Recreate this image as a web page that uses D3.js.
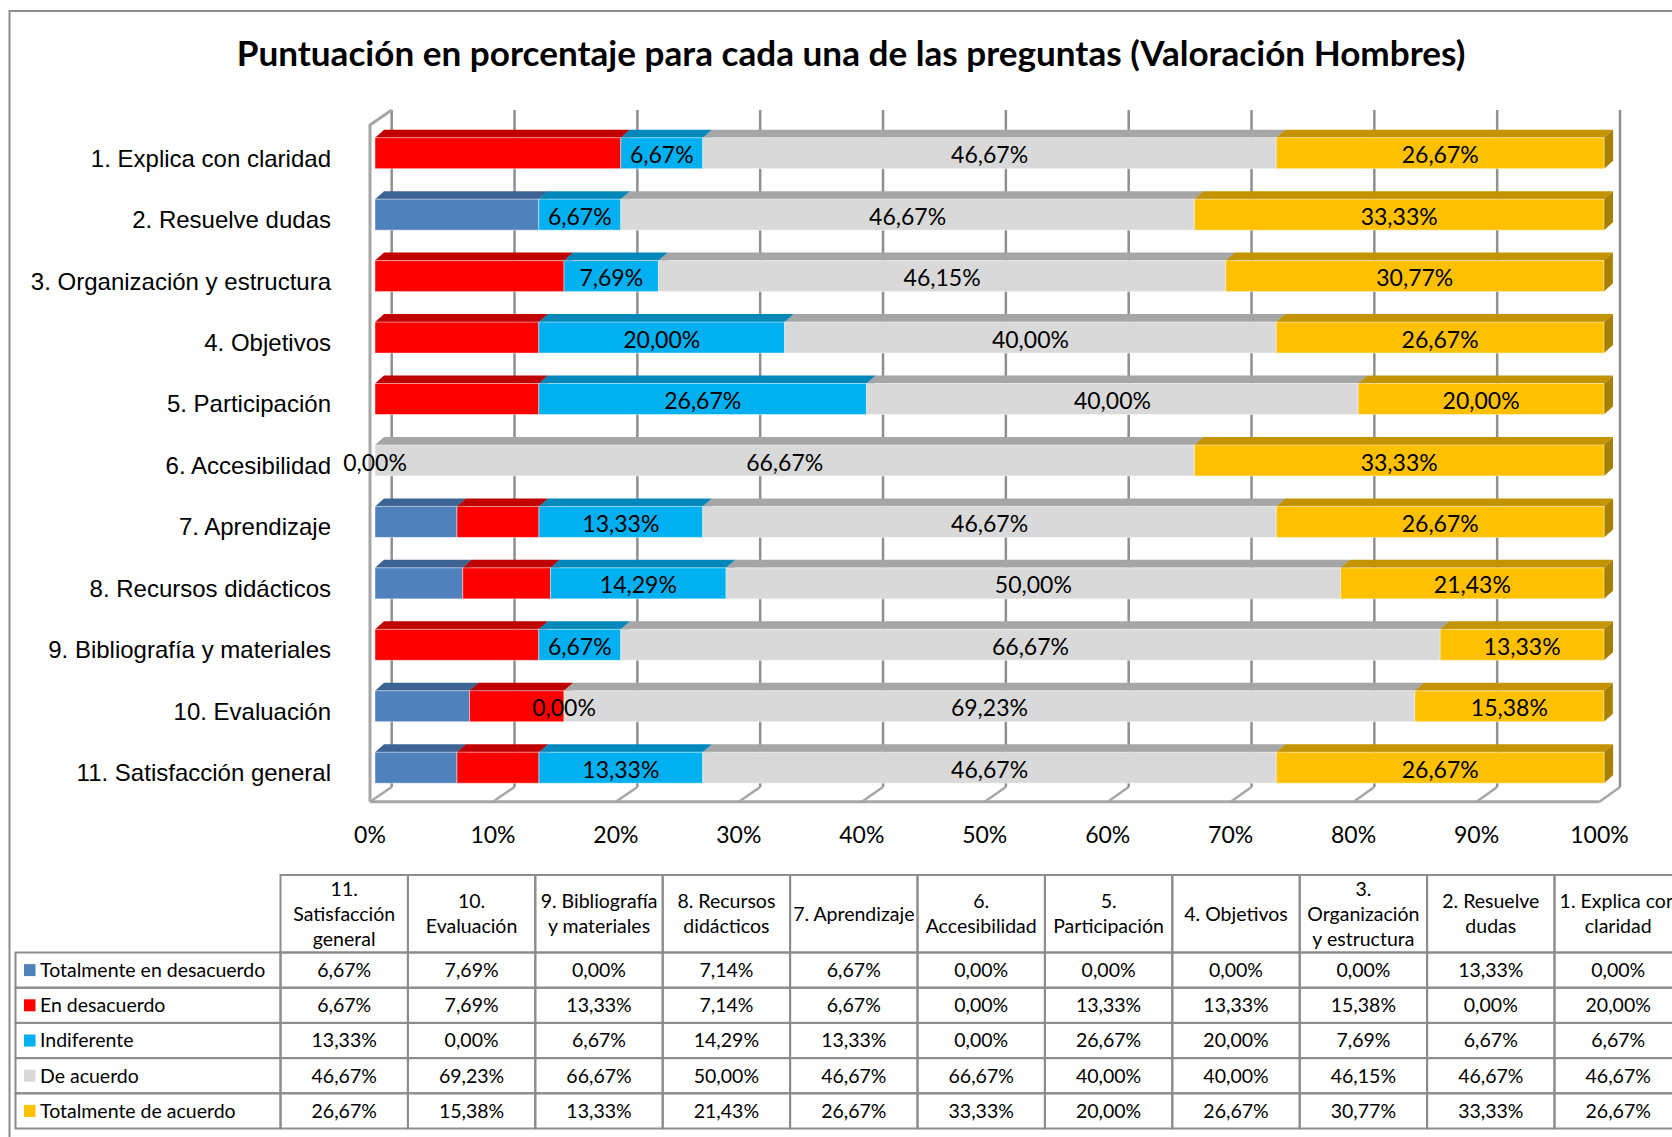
<!DOCTYPE html>
<html>
<head>
<meta charset="utf-8">
<script src="https://cdn.jsdelivr.net/npm/d3@7"></script>
<style>
  html, body { margin: 0; padding: 0; background: #fff; }
  svg { display: block; }
</style>
</head>
<body>
<div id="chart"></div>
<script>
// ━━━━━━━━━━━━━━━━━━━━━━━━━━━━━━━━━━━━━━━━━━━━━━━━━━━━━━━━━━━━━━━━━━━━━━━━━━━━━━━━━━━━━━
// Datos ////////////////////////////////////////////////////////////////////////////////
// ━━━━━━━━━━━━━━━━━━━━━━━━━━━━━━━━━━━━━━━━━━━━━━━━━━━━━━━━━━━━━━━━━━━━━━━━━━━━━━━━━━━━━━

const titulo = 'Puntuación en porcentaje para cada una de las preguntas (Valoración Hombres)';

const preguntas = [
  '1. Explica con claridad', '2. Resuelve dudas', '3. Organización y estructura',
  '4. Objetivos', '5. Participación', '6. Accesibilidad', '7. Aprendizaje',
  '8. Recursos didácticos', '9. Bibliografía y materiales', '10. Evaluación',
  '11. Satisfacción general'
];

// cabecera de la tabla (mismo orden que preguntas, partida en líneas)
const cabeceras = [
  ['1. Explica con', 'claridad'], ['2. Resuelve', 'dudas'], ['3.', 'Organización', 'y estructura'],
  ['4. Objetivos'], ['5.', 'Participación'], ['6.', 'Accesibilidad'], ['7. Aprendizaje'],
  ['8. Recursos', 'didácticos'], ['9. Bibliografía', 'y materiales'], ['10.', 'Evaluación'],
  ['11.', 'Satisfacción', 'general']
];

const series = ['Totalmente en desacuerdo', 'En desacuerdo', 'Indiferente', 'De acuerdo', 'Totalmente de acuerdo'];

const totalmenteDesacuerdo = [0.00, 13.33, 0.00, 0.00, 0.00, 0.00, 6.67, 7.14, 0.00, 7.69, 6.67];
const enDesacuerdo         = [20.00, 0.00, 15.38, 13.33, 13.33, 0.00, 6.67, 7.14, 13.33, 7.69, 6.67];
const indiferente          = [6.67, 6.67, 7.69, 20.00, 26.67, 0.00, 13.33, 14.29, 6.67, 0.00, 13.33];
const deAcuerdo            = [46.67, 46.67, 46.15, 40.00, 40.00, 66.67, 46.67, 50.00, 66.67, 69.23, 46.67];
const totalmenteAcuerdo    = [26.67, 33.33, 30.77, 26.67, 20.00, 33.33, 26.67, 21.43, 13.33, 15.38, 26.67];

const ticksEjeX = [0, 10, 20, 30, 40, 50, 60, 70, 80, 90, 100];

// series con etiqueta de datos dentro de la barra
const seriesConEtiqueta = ['Indiferente', 'De acuerdo', 'Totalmente de acuerdo'];

// ━━━━━━━━━━━━━━━━━━━━━━━━━━━━━━━━━━━━━━━━━━━━━━━━━━━━━━━━━━━━━━━━━━━━━━━━━━━━━━━━━━━━━━
// SVG setup ////////////////////////////////////////////////////////////////////////////
// ━━━━━━━━━━━━━━━━━━━━━━━━━━━━━━━━━━━━━━━━━━━━━━━━━━━━━━━━━━━━━━━━━━━━━━━━━━━━━━━━━━━━━━

const width = 1672;
const height = 1137;
const fontCalibri = 'Lato, "Open Sans", sans-serif';
const fontArial = '"Liberation Sans", Arial, sans-serif';

const colores = {
  'Totalmente en desacuerdo': { front: '#4f81bd', top: '#3d6394' },
  'En desacuerdo':            { front: '#ff0000', top: '#c00000' },
  'Indiferente':              { front: '#00b0f0', top: '#0088ba' },
  'De acuerdo':               { front: '#d9d9d9', top: '#a6a6a6' },
  'Totalmente de acuerdo':    { front: '#ffc000', top: '#c49300', side: '#a88000' }
};

const svg = d3.select('#chart').append('svg')
  .attr('width', width)
  .attr('height', height)
  .attr('viewBox', [0, 0, width, height]);

const     marco = svg.append('g').attr('id', 'marco');
const    grilla = svg.append('g').attr('id', 'grilla');
const    barras = svg.append('g').attr('id', 'barras');
const etiquetas = svg.append('g').attr('id', 'etiquetas');
const     tabla = svg.append('g').attr('id', 'tabla');

// borde exterior (sigue fuera del recorte a la derecha y abajo)
marco.append('rect')
  .attr('x', 9.5).attr('y', 11)
  .attr('width', 1800).attr('height', 1300)
  .attr('fill', '#fff')
  .attr('stroke', '#8c8c8c')
  .attr('stroke-width', 2);

// título
const tituloText = marco.append('text')
  .attr('x', 851).attr('y', 66)
  .attr('text-anchor', 'middle')
  .attr('font-family', fontCalibri)
  .attr('font-weight', 700)
  .attr('font-size', 30)
  .attr('fill', '#000')
  .text(titulo);
// ajustar tamaño al ancho del original
const anchoTitulo = tituloText.node().getComputedTextLength();
tituloText.attr('font-size', 30 * 1229 / anchoTitulo);

// ━━━━━━━━━━━━━━━━━━━━━━━━━━━━━━━━━━━━━━━━━━━━━━━━━━━━━━━━━━━━━━━━━━━━━━━━━━━━━━━━━━━━━━
// Escalas //////////////////////////////////////////////////////////////////////////////
// ━━━━━━━━━━━━━━━━━━━━━━━━━━━━━━━━━━━━━━━━━━━━━━━━━━━━━━━━━━━━━━━━━━━━━━━━━━━━━━━━━━━━━━

const x      = d3.scaleLinear().domain([0, 100]).range([375, 1604]);    // cara frontal de barras
const xFondo = d3.scaleLinear().domain([0, 100]).range([391.7, 1620]);  // pared del fondo
const xFrente = d3.scaleLinear().domain([0, 100]).range([370, 1599.5]); // borde frontal del piso
const y = d3.scalePoint().domain(preguntas).range([153.2, 767.7]);

const altoBarra = 31;
const prof = { dx: 9, dy: 8 };          // profundidad de las barras
const fondoTop = 110, fondoBottom = 787;
const frenteTop = 125, frenteBottom = 801.7;

const fmt = v => d3.format('.2f')(v).replace('.', ',') + '%';

// ━━━━━━━━━━━━━━━━━━━━━━━━━━━━━━━━━━━━━━━━━━━━━━━━━━━━━━━━━━━━━━━━━━━━━━━━━━━━━━━━━━━━━━
// Paredes y grilla /////////////////////////////////////////////////////////////////////
// ━━━━━━━━━━━━━━━━━━━━━━━━━━━━━━━━━━━━━━━━━━━━━━━━━━━━━━━━━━━━━━━━━━━━━━━━━━━━━━━━━━━━━━

grilla.selectAll('line.vertical')
  .data(ticksEjeX)
  .join('line')
  .attr('class', 'vertical')
  .attr('x1', d => xFondo(d)).attr('x2', d => xFondo(d))
  .attr('y1', fondoTop).attr('y2', fondoBottom)
  .attr('stroke', '#8f8f8f')
  .attr('stroke-width', 2.5);

// piso: diagonales y borde frontal
grilla.selectAll('line.piso')
  .data(ticksEjeX)
  .join('line')
  .attr('class', 'piso')
  .attr('x1', d => xFondo(d)).attr('y1', fondoBottom)
  .attr('x2', d => xFrente(d)).attr('y2', frenteBottom)
  .attr('stroke', '#a6a6a6')
  .attr('stroke-width', 2.5);

grilla.append('line')
  .attr('x1', xFrente(0)).attr('x2', xFrente(100))
  .attr('y1', frenteBottom).attr('y2', frenteBottom)
  .attr('stroke', '#a6a6a6')
  .attr('stroke-width', 3);

// pared izquierda
grilla.append('path')
  .attr('d', `M${xFrente(0)},${frenteBottom}V${frenteTop}L${xFondo(0)},${fondoTop}`)
  .attr('fill', 'none')
  .attr('stroke', '#a6a6a6')
  .attr('stroke-width', 3)
  .attr('stroke-linejoin', 'round');

// eje X
grilla.selectAll('text')
  .data(ticksEjeX)
  .join('text')
  .attr('x', d => xFrente(d))
  .attr('y', 835)
  .attr('dy', '0.35em')
  .attr('text-anchor', 'middle')
  .attr('font-family', fontCalibri)
  .attr('font-size', 23)
  .attr('fill', '#000')
  .text(d => d + '%');

// etiquetas de categorías
grilla.selectAll('text.cat')
  .data(preguntas)
  .join('text')
  .attr('class', 'cat')
  .attr('x', 331)
  .attr('y', d => y(d) + 5)
  .attr('dy', '0.35em')
  .attr('text-anchor', 'end')
  .attr('font-family', fontArial)
  .attr('font-size', 24)
  .attr('fill', '#000')
  .text(d => d);

// ━━━━━━━━━━━━━━━━━━━━━━━━━━━━━━━━━━━━━━━━━━━━━━━━━━━━━━━━━━━━━━━━━━━━━━━━━━━━━━━━━━━━━━
// Barras apiladas 3D ///////////////////////////////////////////////////////////////////
// ━━━━━━━━━━━━━━━━━━━━━━━━━━━━━━━━━━━━━━━━━━━━━━━━━━━━━━━━━━━━━━━━━━━━━━━━━━━━━━━━━━━━━━

const valores = [totalmenteDesacuerdo, enDesacuerdo, indiferente, deAcuerdo, totalmenteAcuerdo];
const filas = preguntas.map((p, i) => {
  const o = { pregunta: p };
  series.forEach((s, j) => { o[s] = valores[j][i]; });
  return o;
});

const stack = d3.stack().keys(series)(filas);

stack.forEach(capa => {
  const c = colores[capa.key];
  const g = barras.append('g').attr('data-serie', capa.key);

  capa.forEach(d => {
    const x0 = x(d[0]), x1 = x(d[1]);
    const yc = y(d.data.pregunta);
    const yt = yc - altoBarra / 2, yb = yc + altoBarra / 2;
    if (x1 - x0 <= 0) return;

    // cara superior
    g.append('path')
      .attr('d', `M${x0},${yt}L${x0 + prof.dx},${yt - prof.dy}L${x1 + prof.dx},${yt - prof.dy}L${x1},${yt}Z`)
      .attr('fill', c.top);
    // cara lateral
    g.append('path')
      .attr('d', `M${x1},${yt}L${x1 + prof.dx},${yt - prof.dy}L${x1 + prof.dx},${yb - prof.dy}L${x1},${yb}Z`)
      .attr('fill', c.side || c.top);
    // cara frontal
    g.append('rect')
      .attr('x', x0).attr('y', yt)
      .attr('width', x1 - x0).attr('height', altoBarra)
      .attr('fill', c.front)
      .attr('stroke', 'rgba(255,255,255,0.45)')
      .attr('stroke-width', 1);
  });
});

// etiquetas de datos
stack.filter(capa => seriesConEtiqueta.includes(capa.key)).forEach(capa => {
  etiquetas.append('g')
    .selectAll('text')
    .data(capa)
    .join('text')
    .attr('x', d => (x(d[0]) + x(d[1])) / 2)
    .attr('y', d => y(d.data.pregunta) + 2)
    .attr('dy', '0.35em')
    .attr('text-anchor', 'middle')
    .attr('font-family', fontCalibri)
    .attr('font-size', 23)
    .attr('fill', '#000')
    .text(d => fmt(d[1] - d[0]));
});

// ━━━━━━━━━━━━━━━━━━━━━━━━━━━━━━━━━━━━━━━━━━━━━━━━━━━━━━━━━━━━━━━━━━━━━━━━━━━━━━━━━━━━━━
// Tabla de datos ///////////////////////////////////////////////////////////////////////
// ━━━━━━━━━━━━━━━━━━━━━━━━━━━━━━━━━━━━━━━━━━━━━━━━━━━━━━━━━━━━━━━━━━━━━━━━━━━━━━━━━━━━━━

const colLeyenda = 15.5, colInicio = 280.5, anchoCol = 127.4;
const filaCabTop = 875, filaInicio = 952.5, altoFila = 35.2;
const ordenTabla = d3.range(preguntas.length).reverse();   // 11 ... 1
const colX = d3.scaleBand().domain(ordenTabla).range([colInicio, colInicio + anchoCol * ordenTabla.length]);
const filaY = d3.scaleBand().domain(series).range([filaInicio, filaInicio + altoFila * series.length]);

const bordeColor = '#8c8c8c';

// celdas de cabecera
tabla.selectAll('rect.cab')
  .data(ordenTabla)
  .join('rect')
  .attr('class', 'cab')
  .attr('x', d => colX(d)).attr('y', filaCabTop)
  .attr('width', colX.bandwidth()).attr('height', filaInicio - filaCabTop)
  .attr('fill', 'none').attr('stroke', bordeColor).attr('stroke-width', 2);

ordenTabla.forEach(i => {
  const lineas = cabeceras[i];
  const cy = (filaCabTop + filaInicio) / 2;
  tabla.append('g').selectAll('text')
    .data(lineas)
    .join('text')
    .attr('x', colX(i) + colX.bandwidth() / 2)
    .attr('y', (d, k) => cy + (k - (lineas.length - 1) / 2) * 25)
    .attr('dy', '0.35em')
    .attr('text-anchor', 'middle')
    .attr('font-family', fontCalibri)
    .attr('font-size', 19.5)
    .attr('fill', '#000')
    .text(d => d);
});

// filas de datos
series.forEach((s, j) => {
  const yTop = filaY(s);
  const g = tabla.append('g').attr('data-serie', s);

  g.append('rect')
    .attr('x', colLeyenda).attr('y', yTop)
    .attr('width', colInicio - colLeyenda).attr('height', filaY.bandwidth())
    .attr('fill', 'none').attr('stroke', bordeColor).attr('stroke-width', 2);

  g.append('rect')
    .attr('x', 24).attr('y', yTop + filaY.bandwidth() / 2 - 6)
    .attr('width', 11.5).attr('height', 12)
    .attr('fill', colores[s].front);

  g.append('text')
    .attr('x', 40).attr('y', yTop + filaY.bandwidth() / 2)
    .attr('dy', '0.35em')
    .attr('font-family', fontCalibri)
    .attr('font-size', 19.5)
    .attr('fill', '#000')
    .text(s);

  g.selectAll('rect.celda')
    .data(ordenTabla)
    .join('rect')
    .attr('class', 'celda')
    .attr('x', d => colX(d)).attr('y', yTop)
    .attr('width', colX.bandwidth()).attr('height', filaY.bandwidth())
    .attr('fill', 'none').attr('stroke', bordeColor).attr('stroke-width', 2);

  g.selectAll('text.valor')
    .data(ordenTabla)
    .join('text')
    .attr('class', 'valor')
    .attr('x', d => colX(d) + colX.bandwidth() / 2)
    .attr('y', yTop + filaY.bandwidth() / 2)
    .attr('dy', '0.35em')
    .attr('text-anchor', 'middle')
    .attr('font-family', fontCalibri)
    .attr('font-size', 19.5)
    .attr('fill', '#000')
    .text(d => fmt(valores[j][d]));
});
</script>
</body>
</html>
